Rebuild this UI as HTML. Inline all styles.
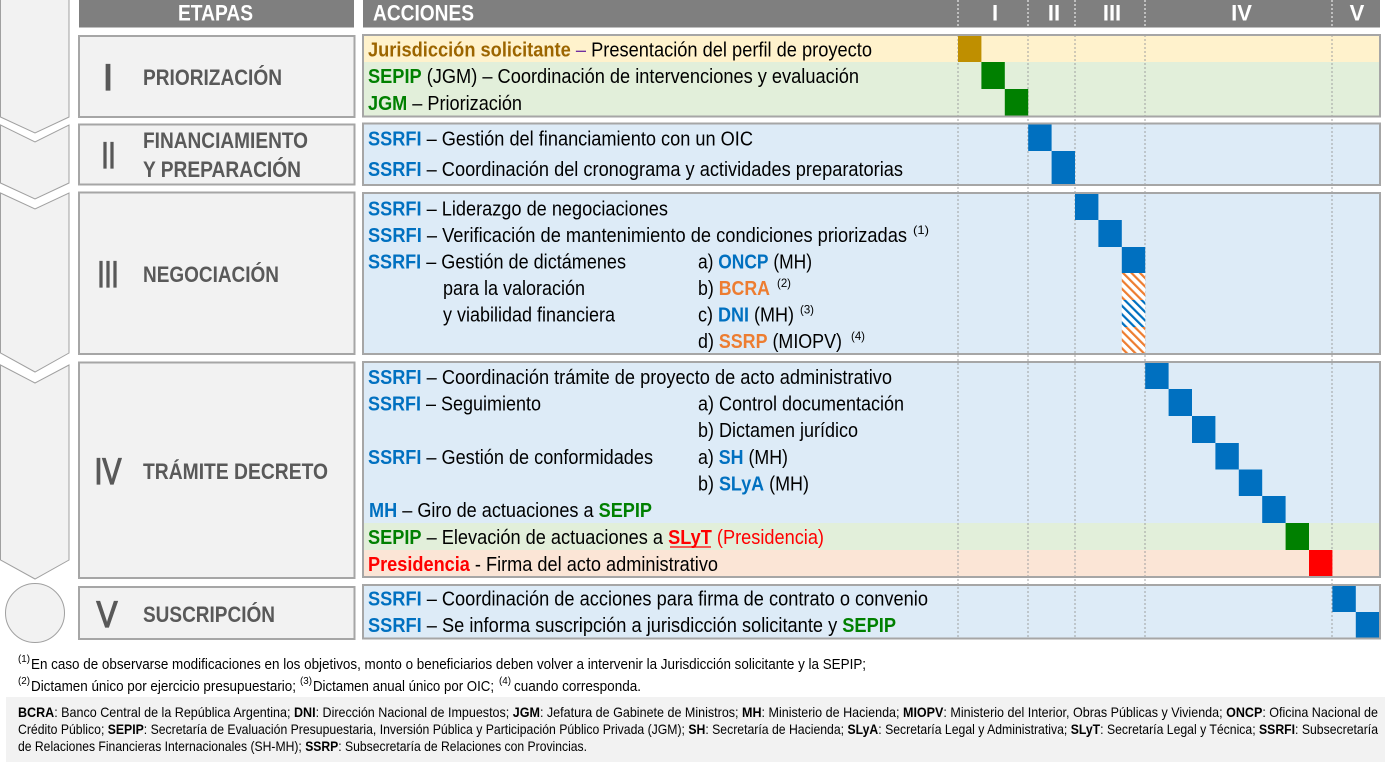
<!DOCTYPE html>
<html>
<head>
<meta charset="utf-8">
<style>
html,body{margin:0;padding:0;background:#fff;}
svg{display:block;}
text{font-family:"Liberation Sans Narrow","Liberation Sans",Arial,sans-serif;}
</style>
</head>
<body>
<svg width="1385" height="764" viewBox="0 0 1385 764" xmlns="http://www.w3.org/2000/svg">
<defs>
  <pattern id="hO" width="6" height="6" patternUnits="userSpaceOnUse" patternTransform="rotate(-45)">
    <rect width="6" height="6" fill="#fff"/>
    <rect x="0" y="0" width="2.2" height="6" fill="#ed7d31"/>
  </pattern>
  <pattern id="hB" width="6" height="6" patternUnits="userSpaceOnUse" patternTransform="rotate(-45)">
    <rect width="6" height="6" fill="#fff"/>
    <rect x="0" y="0" width="2.2" height="6" fill="#0070c0"/>
  </pattern>
</defs>

<!-- Chevrons -->
<g fill="#f2f2f2" stroke="#a0a0a0" stroke-width="1">
  <polygon points="0.5,-5 69,-5 69,117 35,133 0.5,117"/>
  <polygon points="0.5,125 35,142 69,125 69,183 35,199 0.5,183"/>
  <polygon points="0.5,193 35,209 69,193 69,353 35,372 0.5,353"/>
  <polygon points="0.5,365 35,383 69,365 69,560 35,579 0.5,560"/>
  <circle cx="35" cy="613" r="29.5"/>
</g>

<!-- Headers -->
<rect x="79" y="0" width="275" height="27.5" fill="#7f7f7f"/>
<rect x="363" y="0" width="1017" height="27.5" fill="#7f7f7f"/>
<g fill="#fff" font-weight="bold" font-size="22">
  <text x="178" y="20.7" textLength="75" lengthAdjust="spacingAndGlyphs">ETAPAS</text>
  <text x="373" y="20.7" textLength="101" lengthAdjust="spacingAndGlyphs">ACCIONES</text>
  <text x="995" y="20.7" text-anchor="middle">I</text>
  <text x="1054" y="20.7" text-anchor="middle">II</text>
  <text x="1112" y="20.7" text-anchor="middle">III</text>
  <text x="1241.5" y="20.7" text-anchor="middle">IV</text>
  <text x="1357" y="20.7" text-anchor="middle">V</text>
</g>
<g stroke="#fff" stroke-width="1" stroke-dasharray="2,2">
  <line x1="958" y1="0" x2="958" y2="27"/>
  <line x1="1028" y1="0" x2="1028" y2="27"/>
  <line x1="1075" y1="0" x2="1075" y2="27"/>
  <line x1="1145" y1="0" x2="1145" y2="27"/>
  <line x1="1332" y1="0" x2="1332" y2="27"/>
</g>

<!-- Stage boxes -->
<g fill="#f2f2f2" stroke="#a6a6a6" stroke-width="2">
  <rect x="79" y="36" width="275.5" height="81"/>
  <rect x="79" y="124.5" width="275.5" height="60"/>
  <rect x="79" y="192.5" width="275.5" height="161.5"/>
  <rect x="79" y="362.5" width="275.5" height="215.5"/>
  <rect x="79" y="587" width="275.5" height="52"/>
</g>
<g fill="#595959" stroke="#595959" stroke-width="1.3" font-size="37" style="font-family:'Liberation Sans',Arial,sans-serif">
  <text x="108" y="90" text-anchor="middle">I</text>
  <text x="101.5" y="168" textLength="14" lengthAdjust="spacingAndGlyphs">II</text>
  <text x="97.5" y="287" textLength="21" lengthAdjust="spacingAndGlyphs">III</text>
  <text x="94.5" y="484" textLength="27" lengthAdjust="spacingAndGlyphs">IV</text>
  <text x="96.5" y="627" textLength="21" lengthAdjust="spacingAndGlyphs">V</text>
</g>
<g fill="#595959" font-size="22" font-weight="bold">
  <text x="143" y="85" textLength="139" lengthAdjust="spacingAndGlyphs">PRIORIZACIÓN</text>
  <text x="143" y="148" textLength="165" lengthAdjust="spacingAndGlyphs">FINANCIAMIENTO</text>
  <text x="143" y="177" textLength="158" lengthAdjust="spacingAndGlyphs">Y PREPARACIÓN</text>
  <text x="143" y="282" textLength="136" lengthAdjust="spacingAndGlyphs">NEGOCIACIÓN</text>
  <text x="143" y="479" textLength="185" lengthAdjust="spacingAndGlyphs">TRÁMITE DECRETO</text>
  <text x="143" y="622" textLength="132" lengthAdjust="spacingAndGlyphs">SUSCRIPCIÓN</text>
</g>

<!-- Action section backgrounds -->
<rect x="363" y="35.5" width="1017" height="26.5" fill="#fff2cc"/>
<rect x="363" y="62" width="1017" height="54" fill="#e2efda"/>
<rect x="363" y="124" width="1017" height="61" fill="#ddebf7"/>
<rect x="363" y="193" width="1017" height="160.5" fill="#ddebf7"/>
<rect x="363" y="362" width="1017" height="161" fill="#ddebf7"/>
<rect x="363" y="523" width="1017" height="27" fill="#e2efda"/>
<rect x="363" y="550" width="1017" height="27" fill="#fbe5d6"/>
<rect x="363" y="585" width="1017" height="53" fill="#ddebf7"/>

<!-- dotted grid lines -->
<g stroke="#a0a0a0" stroke-width="1" stroke-dasharray="2,2">
  <line x1="958" y1="35" x2="958" y2="638"/>
  <line x1="1028" y1="35" x2="1028" y2="638"/>
  <line x1="1075" y1="35" x2="1075" y2="638"/>
  <line x1="1145" y1="35" x2="1145" y2="638"/>
  <line x1="1332" y1="35" x2="1332" y2="638"/>
</g>

<!-- Blocks -->
<rect x="958" y="35.5" width="23.4" height="26.5" fill="#bf8f00"/>
<rect x="981.4" y="62" width="23.4" height="27" fill="#008000"/>
<rect x="1004.8" y="89" width="23.4" height="27" fill="#008000"/>
<rect x="1028.2" y="124" width="23.4" height="27" fill="#0070c0"/>
<rect x="1051.6" y="151" width="23.4" height="34" fill="#0070c0"/>
<rect x="1075" y="193" width="23.4" height="27" fill="#0070c0"/>
<rect x="1098.4" y="220" width="23.4" height="27" fill="#0070c0"/>
<rect x="1121.8" y="247" width="23.4" height="26" fill="#0070c0"/>
<rect x="1121.8" y="273" width="23.4" height="27" fill="url(#hO)"/>
<rect x="1121.8" y="300" width="23.4" height="27" fill="url(#hB)"/>
<rect x="1121.8" y="327" width="23.4" height="26.5" fill="url(#hO)"/>
<rect x="1145.2" y="362" width="23.4" height="27" fill="#0070c0"/>
<rect x="1168.6" y="389" width="23.4" height="27" fill="#0070c0"/>
<rect x="1192" y="416" width="23.4" height="27" fill="#0070c0"/>
<rect x="1215.4" y="443" width="23.4" height="26.5" fill="#0070c0"/>
<rect x="1238.8" y="469.5" width="23.4" height="26.5" fill="#0070c0"/>
<rect x="1262.2" y="496" width="23.4" height="27" fill="#0070c0"/>
<rect x="1285.6" y="523" width="23.4" height="27" fill="#008000"/>
<rect x="1309" y="550" width="23.4" height="27" fill="#ff0000"/>
<rect x="1332.4" y="585" width="23.4" height="27" fill="#0070c0"/>
<rect x="1355.8" y="612" width="23.4" height="26" fill="#0070c0"/>

<!-- Action section borders -->
<g fill="none" stroke="#a6a6a6" stroke-width="2">
  <rect x="363" y="35" width="1017" height="81.5"/>
  <rect x="363" y="123.5" width="1017" height="61.5"/>
  <rect x="363" y="193" width="1017" height="161"/>
  <rect x="363" y="362" width="1017" height="215"/>
  <rect x="363" y="585" width="1017" height="53.5"/>
</g>

<!-- Action text -->
<g font-size="20" fill="#000">
  <text x="368" y="56.5" textLength="504" lengthAdjust="spacingAndGlyphs"><tspan fill="#9c6500" font-weight="bold">Jurisdicción solicitante</tspan><tspan fill="#7030a0"> –</tspan> Presentación del perfil de proyecto</text>
  <text x="368" y="83" textLength="491" lengthAdjust="spacingAndGlyphs"><tspan fill="#008000" font-weight="bold">SEPIP</tspan> (JGM) – Coordinación de intervenciones y evaluación</text>
  <text x="368" y="110" textLength="154" lengthAdjust="spacingAndGlyphs"><tspan fill="#008000" font-weight="bold">JGM</tspan> – Priorización</text>

  <text x="368" y="145.5" textLength="385" lengthAdjust="spacingAndGlyphs"><tspan fill="#0070c0" font-weight="bold">SSRFI</tspan> – Gestión del financiamiento con un OIC</text>
  <text x="368" y="176" textLength="535" lengthAdjust="spacingAndGlyphs"><tspan fill="#0070c0" font-weight="bold">SSRFI</tspan> – Coordinación del cronograma y actividades preparatorias</text>

  <text x="368" y="215.5" textLength="300" lengthAdjust="spacingAndGlyphs"><tspan fill="#0070c0" font-weight="bold">SSRFI</tspan> – Liderazgo de negociaciones</text>
  <text x="368" y="242" textLength="539" lengthAdjust="spacingAndGlyphs"><tspan fill="#0070c0" font-weight="bold">SSRFI</tspan> – Verificación de mantenimiento de condiciones priorizadas</text>
  <text x="913" y="234" font-size="12" textLength="16" lengthAdjust="spacingAndGlyphs">(1)</text>
  <text x="368" y="268.5" textLength="258" lengthAdjust="spacingAndGlyphs"><tspan fill="#0070c0" font-weight="bold">SSRFI</tspan> – Gestión de dictámenes</text>
  <text x="698" y="268.5" textLength="114" lengthAdjust="spacingAndGlyphs">a) <tspan fill="#0070c0" font-weight="bold">ONCP</tspan> (MH)</text>
  <text x="443" y="295" textLength="142" lengthAdjust="spacingAndGlyphs">para la valoración</text>
  <text x="698" y="295" textLength="72" lengthAdjust="spacingAndGlyphs">b) <tspan fill="#ed7d31" font-weight="bold">BCRA</tspan></text>
  <text x="777" y="287" font-size="12" textLength="14" lengthAdjust="spacingAndGlyphs">(2)</text>
  <text x="443" y="321.5" textLength="172" lengthAdjust="spacingAndGlyphs">y viabilidad financiera</text>
  <text x="698" y="321.5" textLength="96" lengthAdjust="spacingAndGlyphs">c) <tspan fill="#0070c0" font-weight="bold">DNI</tspan> (MH)</text>
  <text x="800" y="313.5" font-size="12" textLength="14" lengthAdjust="spacingAndGlyphs">(3)</text>
  <text x="698" y="348" textLength="144" lengthAdjust="spacingAndGlyphs">d) <tspan fill="#ed7d31" font-weight="bold">SSRP</tspan> (MIOPV)</text>
  <text x="851" y="340" font-size="12" textLength="14" lengthAdjust="spacingAndGlyphs">(4)</text>

  <text x="368" y="384" textLength="524" lengthAdjust="spacingAndGlyphs"><tspan fill="#0070c0" font-weight="bold">SSRFI</tspan> – Coordinación trámite de proyecto de acto administrativo</text>
  <text x="368" y="410.5" textLength="173" lengthAdjust="spacingAndGlyphs"><tspan fill="#0070c0" font-weight="bold">SSRFI</tspan> – Seguimiento</text>
  <text x="698" y="410.5" textLength="206" lengthAdjust="spacingAndGlyphs">a) Control documentación</text>
  <text x="698" y="437" textLength="160" lengthAdjust="spacingAndGlyphs">b) Dictamen jurídico</text>
  <text x="368" y="464" textLength="285" lengthAdjust="spacingAndGlyphs"><tspan fill="#0070c0" font-weight="bold">SSRFI</tspan> – Gestión de conformidades</text>
  <text x="698" y="464" textLength="90" lengthAdjust="spacingAndGlyphs">a) <tspan fill="#0070c0" font-weight="bold">SH</tspan> (MH)</text>
  <text x="698" y="490.5" textLength="111" lengthAdjust="spacingAndGlyphs">b) <tspan fill="#0070c0" font-weight="bold">SLyA</tspan> (MH)</text>
  <text x="369" y="517" textLength="283" lengthAdjust="spacingAndGlyphs"><tspan fill="#0070c0" font-weight="bold">MH</tspan> – Giro de actuaciones a <tspan fill="#008000" font-weight="bold">SEPIP</tspan></text>
  <text x="368" y="544" textLength="456" lengthAdjust="spacingAndGlyphs"><tspan fill="#008000" font-weight="bold">SEPIP</tspan> – Elevación de actuaciones a <tspan fill="#ff0000" font-weight="bold">SLyT</tspan><tspan fill="#ff0000"> (Presidencia)</tspan></text>
  <text x="368" y="571" textLength="350" lengthAdjust="spacingAndGlyphs"><tspan fill="#ff0000" font-weight="bold">Presidencia</tspan> - Firma del acto administrativo</text>

  <text x="368" y="605.5" textLength="560" lengthAdjust="spacingAndGlyphs"><tspan fill="#0070c0" font-weight="bold">SSRFI</tspan> – Coordinación de acciones para firma de contrato o convenio</text>
  <text x="368" y="632" textLength="528" lengthAdjust="spacingAndGlyphs"><tspan fill="#0070c0" font-weight="bold">SSRFI</tspan> – Se informa suscripción a jurisdicción solicitante y <tspan fill="#008000" font-weight="bold">SEPIP</tspan></text>
</g>
<line x1="670" y1="547" x2="711" y2="547" stroke="#ff0000" stroke-width="1.3"/>

<!-- Footnotes -->
<g font-size="15" fill="#000">
  <text x="18" y="662" font-size="10" textLength="12" lengthAdjust="spacingAndGlyphs">(1)</text>
  <text x="31" y="669" textLength="835" lengthAdjust="spacingAndGlyphs">En caso de observarse modificaciones en los objetivos, monto o beneficiarios deben volver a intervenir la Jurisdicción solicitante y la SEPIP;</text>
  <text x="18" y="684" font-size="10" textLength="12" lengthAdjust="spacingAndGlyphs">(2)</text>
  <text x="31" y="691" textLength="265" lengthAdjust="spacingAndGlyphs">Dictamen único por ejercicio presupuestario;</text>
  <text x="300" y="684" font-size="10" textLength="12" lengthAdjust="spacingAndGlyphs">(3)</text>
  <text x="313" y="691" textLength="181" lengthAdjust="spacingAndGlyphs">Dictamen anual único por OIC;</text>
  <text x="499" y="684" font-size="10" textLength="12" lengthAdjust="spacingAndGlyphs">(4)</text>
  <text x="514" y="691" textLength="127" lengthAdjust="spacingAndGlyphs">cuando corresponda.</text>
</g>

<!-- Glossary box -->
<rect x="6" y="697" width="1379" height="65" fill="#f2f2f2"/>
<g font-size="14" fill="#000">
  <text x="18" y="717" textLength="1360" lengthAdjust="spacingAndGlyphs"><tspan font-weight="bold">BCRA</tspan>: Banco Central de la República Argentina; <tspan font-weight="bold">DNI</tspan>: Dirección Nacional de Impuestos; <tspan font-weight="bold">JGM</tspan>: Jefatura de Gabinete de Ministros; <tspan font-weight="bold">MH</tspan>: Ministerio de Hacienda; <tspan font-weight="bold">MIOPV</tspan>: Ministerio del Interior, Obras Públicas y Vivienda; <tspan font-weight="bold">ONCP</tspan>: Oficina Nacional de</text>
  <text x="18" y="734" textLength="1360" lengthAdjust="spacingAndGlyphs">Crédito Público; <tspan font-weight="bold">SEPIP</tspan>: Secretaría de Evaluación Presupuestaria, Inversión Pública y Participación Público Privada (JGM); <tspan font-weight="bold">SH</tspan>: Secretaría de Hacienda; <tspan font-weight="bold">SLyA</tspan>: Secretaría Legal y Administrativa; <tspan font-weight="bold">SLyT</tspan>: Secretaría Legal y Técnica; <tspan font-weight="bold">SSRFI</tspan>: Subsecretaría</text>
  <text x="18" y="751" textLength="569" lengthAdjust="spacingAndGlyphs">de Relaciones Financieras Internacionales (SH-MH); <tspan font-weight="bold">SSRP</tspan>: Subsecretaría de Relaciones con Provincias.</text>
</g>
</svg>
</body>
</html>
